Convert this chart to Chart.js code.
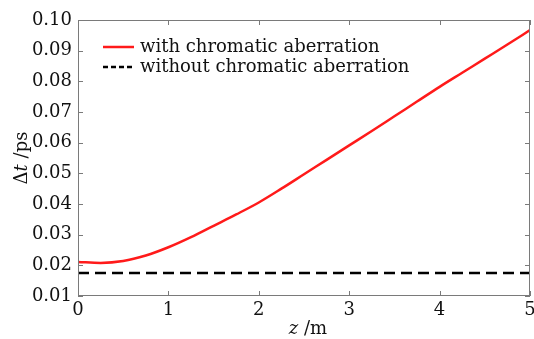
<!DOCTYPE html>
<html>
<head>
<meta charset="utf-8">
<script src="https://cdn.jsdelivr.net/npm/chart.js@4"></script>
<style>
html, body { margin: 0; padding: 0; background: #fff; }
#wrap { width: 534px; height: 339px; }
</style>
</head>
<body>
<div id="wrap"><canvas id="chart"></canvas></div>
<script>
// z in metres, delta t in ps
const zValues = [0, 0.25, 0.5, 0.75, 1.0, 1.25, 1.5, 1.75, 2.0, 2.25, 2.5,
                 2.75, 3.0, 3.25, 3.5, 3.75, 4.0, 4.25, 4.5, 4.75, 5.0];
const withChromatic = [0.0211, 0.0208, 0.0214, 0.0232, 0.0259, 0.0292, 0.0329,
                       0.0366, 0.0405, 0.0450, 0.0497, 0.0544, 0.0591, 0.0638,
                       0.0686, 0.0734, 0.0782, 0.0828, 0.0874, 0.0920, 0.0967];
const zFlat = [0, 5];
const withoutChromatic = [0.0175, 0.0175];
const xTicks = [0, 1, 2, 3, 4, 5];
const yTicks = [0.01, 0.02, 0.03, 0.04, 0.05, 0.06, 0.07, 0.08, 0.09, 0.10];
const labels = ['with chromatic aberration', 'without chromatic aberration'];

const FONT = '"DejaVu Serif", serif';
const SIZE = 18;

const toPoints = (xs, ys) => xs.map((x, i) => ({ x: x, y: ys[i] }));

// frame, inward ticks, legend and axis titles
const decor = {
    id: 'decor',
    afterDraw(chart) {
        const c = chart.ctx;
        const a = chart.chartArea;
        const xs = chart.scales.x, ys = chart.scales.y;
        c.save();
        c.strokeStyle = '#7a7a7a';
        c.lineWidth = 1;
        c.strokeRect(a.left + 0.5, a.top + 0.5, a.right - a.left - 1, a.bottom - a.top - 1);
        c.beginPath();
        xTicks.forEach(v => {
            const px = Math.round(xs.getPixelForValue(v)) + 0.5;
            c.moveTo(px, a.bottom); c.lineTo(px, a.bottom - 5);
            c.moveTo(px, a.top); c.lineTo(px, a.top + 5);
        });
        yTicks.forEach(v => {
            const py = Math.round(ys.getPixelForValue(v)) + 0.5;
            c.moveTo(a.left, py); c.lineTo(a.left + 5, py);
            c.moveTo(a.right, py); c.lineTo(a.right - 5, py);
        });
        c.stroke();

        // legend
        c.font = SIZE + 'px ' + FONT;
        c.textBaseline = 'middle';
        c.fillStyle = '#111';
        chart.data.datasets.forEach((ds, i) => {
            const y = 47 + i * 20;
            c.beginPath();
            c.strokeStyle = ds.borderColor;
            c.lineWidth = 2.5;
            c.setLineDash(i === 1 ? [5, 3] : []);
            c.moveTo(103, y); c.lineTo(134, y);
            c.stroke();
            c.setLineDash([]);
            c.fillText(ds.label, 140, y);
        });

        // x title: italic z
        c.textBaseline = 'alphabetic';
        c.textAlign = 'left';
        const cx = (a.left + a.right) / 2 + 4;
        c.font = 'italic ' + SIZE + 'px ' + FONT;
        const w1 = c.measureText('z').width;
        c.font = SIZE + 'px ' + FONT;
        const w2 = c.measureText(' /m').width;
        let x0 = cx - (w1 + w2) / 2;
        c.font = 'italic ' + SIZE + 'px ' + FONT;
        c.fillText('z', x0, 334);
        c.font = SIZE + 'px ' + FONT;
        c.fillText(' /m', x0 + w1, 334);

        // y title: delta t /ps rotated
        c.translate(27, (a.top + a.bottom) / 2);
        c.rotate(-Math.PI / 2);
        c.font = SIZE + 'px ' + FONT;
        const d1 = c.measureText('\u0394').width;
        c.font = 'italic ' + SIZE + 'px ' + FONT;
        const d2 = c.measureText('t').width;
        c.font = SIZE + 'px ' + FONT;
        const d3 = c.measureText(' /ps').width;
        x0 = -(d1 + d2 + d3) / 2;
        c.fillText('\u0394', x0, 0);
        c.font = 'italic ' + SIZE + 'px ' + FONT;
        c.fillText('t', x0 + d1, 0);
        c.font = SIZE + 'px ' + FONT;
        c.fillText(' /ps', x0 + d1 + d2, 0);
        c.restore();
    }
};

new Chart(document.getElementById('chart'), {
    type: 'line',
    data: {
        datasets: [{
            label: labels[0],
            data: toPoints(zValues, withChromatic),
            borderColor: '#ff1a1a',
            borderWidth: 2.5,
            pointRadius: 0,
            cubicInterpolationMode: 'monotone',
            fill: false
        }, {
            label: labels[1],
            data: toPoints(zFlat, withoutChromatic),
            borderColor: '#000000',
            borderWidth: 2.5,
            borderDash: [11, 6],
            pointRadius: 0,
            fill: false
        }]
    },
    options: {
        responsive: true,
        maintainAspectRatio: false,
        animation: false,
        layout: { padding: { top: 20, right: 4, left: 0, bottom: 0 } },
        plugins: { legend: { display: false }, tooltip: { enabled: false } },
        scales: {
            x: {
                type: 'linear',
                min: 0,
                max: 5,
                afterBuildTicks: s => { s.ticks = xTicks.map(v => ({ value: v })); },
                afterFit: s => { s.height = 43; s.paddingLeft = 0; s.paddingRight = 0; },
                grid: { display: false, drawTicks: false },
                border: { display: false },
                ticks: {
                    color: '#111',
                    padding: 4,
                    maxRotation: 0,
                    font: { family: FONT, size: SIZE },
                    callback: v => String(v)
                }
            },
            y: {
                min: 0.01,
                max: 0.10,
                afterBuildTicks: s => { s.ticks = yTicks.map(v => ({ value: v })); },
                afterFit: s => { s.width = 78; s.paddingTop = 0; s.paddingBottom = 0; },
                grid: { display: false, drawTicks: false },
                border: { display: false },
                ticks: {
                    color: '#111',
                    padding: 6,
                    font: { family: FONT, size: SIZE },
                    callback: v => Number(v).toFixed(2)
                }
            }
        }
    },
    plugins: [decor]
});
</script>
</body>
</html>
